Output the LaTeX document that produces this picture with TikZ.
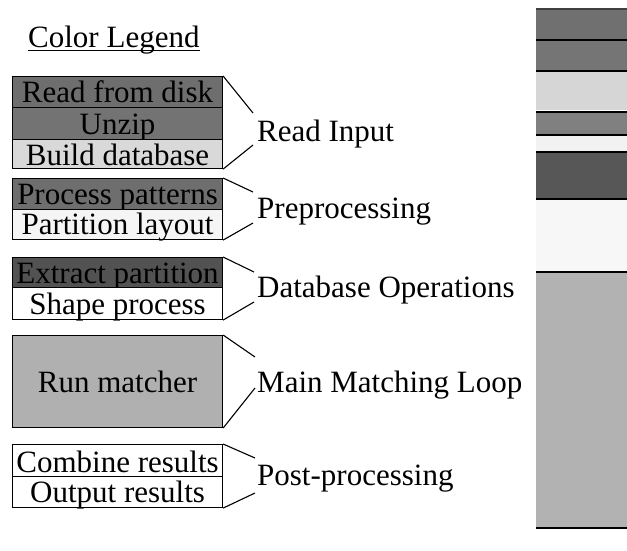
\documentclass[tikz,border=0pt]{standalone}
\usepackage{fontspec}
\setmainfont{Liberation Serif}
\begin{document}
\begin{tikzpicture}[x=1pt,y=-1pt,
  font=\fontsize{31}{34}\selectfont,
  row/.style={draw=black, line width=1.1pt, inner sep=0pt, anchor=north west,
              minimum width=210pt, text depth=5pt},
  grouplabel/.style={anchor=base west, inner sep=0pt},
  bracket/.style={line width=1.1pt},
  barline/.style={line width=1.6pt}]
\useasboundingbox (0,0) rectangle (627,550);

% title
\node[anchor=base west, inner sep=0pt] (title) at (28,47) {Color Legend};
\draw[line width=1pt] ([yshift=-3.5pt]title.base west) -- ([yshift=-3.5pt]title.base east);

% legend rows
\node[row, fill=black!57, text height=26pt] (rfd) at (12,76)  {Read from disk};
\node[row, fill=black!55, text height=27pt] (unz) at (12,107) {Unzip};
\node[row, fill=black!15, text height=26pt, text depth=3pt] (bdb) at (12,139) {Build database};

\node[row, fill=black!57, text height=26pt] (ppt) at (12,178) {Process patterns};
\node[row, fill=black!4,  text height=25pt] (ply) at (12,209) {Partition layout};

\node[row, fill=black!68, text height=26pt, text depth=4pt] (exp) at (12,257) {Extract partition};
\node[row, fill=white,   text height=27pt] (shp) at (12,287) {Shape process};

\node[row, fill=black!31, minimum height=92pt, text height=57pt, text depth=35pt] (rmt) at (12,335) {Run matcher};

\node[row, fill=white, text height=28pt, text depth=4pt] (cmb) at (12,444) {Combine results};
\node[row, fill=white, text height=26pt] (out) at (12,476) {Output results};

% group labels
\node[grouplabel] (lri) at (257,141) {Read Input};
\node[grouplabel] (lpp) at (257,218) {Preprocessing};
\node[grouplabel] (ldb) at (257,297) {Database Operations};
\node[grouplabel] (lmm) at (257,392) {Main Matching Loop};
\node[grouplabel] (lpo) at (257,485) {Post-processing};

% bracket tips
\coordinate (riT) at (253,113); \coordinate (riB) at (253,145);
\coordinate (ppT) at (253,192); \coordinate (ppB) at (253,223);
\coordinate (dbT) at (254,272); \coordinate (dbB) at (254,302);
\coordinate (mmT) at (255,357); \coordinate (mmB) at (255,388);
\coordinate (poT) at (255,458); \coordinate (poB) at (255,493);

\draw[bracket] (rfd.north east) -- (riT);
\draw[bracket] (bdb.south east) -- (riB);
\draw[bracket] (ppt.north east) -- (ppT);
\draw[bracket] (ply.south east) -- (ppB);
\draw[bracket] (exp.north east) -- (dbT);
\draw[bracket] (shp.south east) -- (dbB);
\draw[bracket] (rmt.north east) -- (mmT);
\draw[bracket] (rmt.south east) -- (mmB);
\draw[bracket] (cmb.north east) -- (poT);
\draw[bracket] (out.south east) -- (poB);

% time bar on the right
\begin{scope}
\clip (0,0) rectangle (627,550);
\fill[black!56] (536,9) rectangle (640,40);
\fill[black!54] (536,40) rectangle (640,71);
\fill[black!16] (536,71) rectangle (640,110);
\fill[black!50] (536,112) rectangle (640,135);
\fill[black!5]  (536,135) rectangle (640,152);
\fill[black!66] (536,152) rectangle (640,199);
\fill[black!3]  (536,199) rectangle (640,272);
\fill[black!30] (536,272) rectangle (640,528);
\draw[barline, black!75] (536,9) -- (640,9);
\draw[barline] (536,40) -- (640,40);
\draw[barline] (536,71) -- (640,71);
\draw[barline] (536,112) -- (640,112);
\draw[barline] (536,135) -- (640,135);
\draw[barline] (536,152) -- (640,152);
\draw[barline] (536,199) -- (640,199);
\draw[barline] (536,272) -- (640,272);
\draw[barline] (536,528) -- (640,528);
\end{scope}
\end{tikzpicture}
\end{document}
